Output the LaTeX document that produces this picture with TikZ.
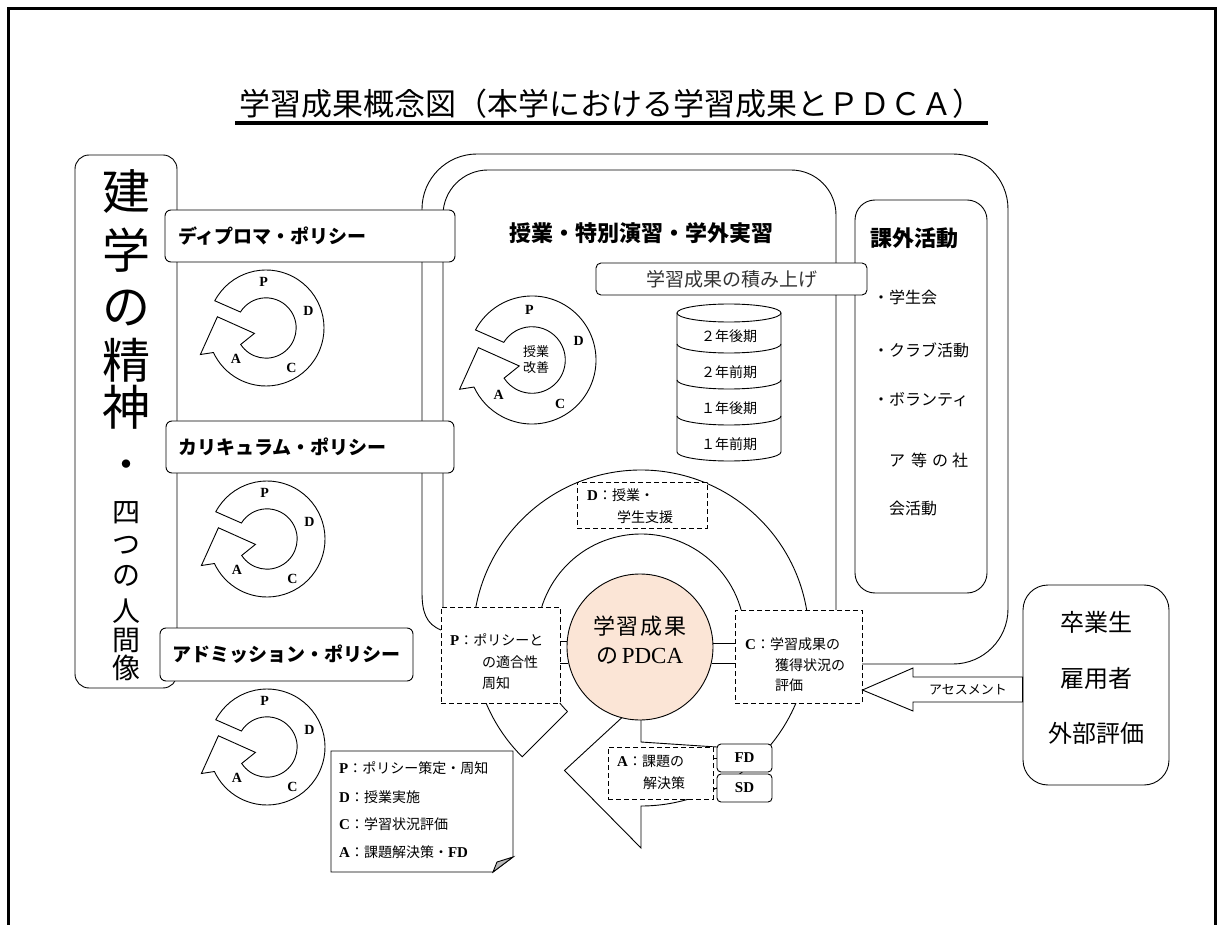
\documentclass[tikz,border=0pt]{standalone}
\usepackage{fontspec}
\setmainfont{Liberation Serif}
\newfontfamily\jp{Noto Sans CJK JP}
\definecolor{peach}{RGB}{251,229,214}
\definecolor{foldgray}{RGB}{185,185,185}
\newcommand{\myfs}[1]{\fontsize{#1}{#1}\selectfont}
\newcommand{\lt}[2]{{\bfseries\myfs{15}#1}{\jp\myfs{14}#2}}
\newcommand{\pdcycle}[4]{%
 \begin{scope}[shift={(#2,#3)}, yscale=-1]
 \draw[ln, fill=white] (152:#4) arc[start angle=152, end angle=-155, radius=#4]
   -- (202:{1.22*#4}) -- (167:{0.86*#4}) -- (205:{0.22*#4}) -- (-147:{0.52*#4})
   arc[start angle=-147, end angle=148, radius={0.52*#4}] -- cycle;
 \node[cyclab] (#1P) at ({-0.04*#4},{0.79*#4}) {P};
 \node[cyclab] (#1D) at ({0.73*#4},{0.30*#4}) {D};
 \node[cyclab] (#1C) at ({0.44*#4},{-0.68*#4}) {C};
 \node[cyclab] (#1A) at ({-0.52*#4},{-0.54*#4}) {A};
 \end{scope}}
\begin{document}
\begin{tikzpicture}[x=1pt,y=-1pt,
  ln/.style={line width=0.9pt},
  cyclab/.style={font=\bfseries\myfs{14}, inner sep=0},
  pbox/.style={draw, ln, fill=white, rounded corners=6, inner ysep=0, align=left, font=\jp\bfseries\myfs{19}},
  dbox/.style={draw, ln, fill=white, dashed, dash pattern=on 5pt off 3pt, inner sep=0},
  sbox/.style={draw, ln, fill=white, rounded corners=4, inner sep=0, font=\bfseries\myfs{15}},
  txt/.style={inner sep=0, anchor=west},
  jtxt/.style={inner sep=0, anchor=west, font=\jp\myfs{14}}]
\useasboundingbox (0,0) rectangle (1219,925);
\fill[white] (0,0) rectangle (1219,925);
\draw[line width=3pt] (8,9) rectangle (1215,960);

% title
\node[font=\jp\myfs{31}, inner sep=0] (title) at (611,104) {学習成果概念図（本学における学習成果とＰＤＣＡ）};
\draw[line width=4pt] (235,123) -- (988,123);

% left box
\node[draw, ln, rounded corners=14, minimum width=102, minimum height=533, inner sep=0] (kengaku) at (126,421.5) {};
\node[font=\jp\myfs{48}, inner sep=0] (k1) at (126,192) {建};
\node[font=\jp\myfs{48}, inner sep=0] (k2) at (126,250) {学};
\node[font=\jp\myfs{48}, inner sep=0] (k3) at (126,308) {の};
\node[font=\jp\myfs{48}, inner sep=0] (k4) at (126,360) {精};
\node[font=\jp\myfs{48}, inner sep=0] (k5) at (126,407) {神};
\node[font=\jp\bfseries\myfs{30}, inner sep=0] (n0) at (126,468) {・};
\node[font=\jp\myfs{28}, inner sep=0] (n1) at (126,513) {四};
\node[font=\jp\myfs{28}, inner sep=0] (n2) at (126,545) {つ};
\node[font=\jp\myfs{28}, inner sep=0] (n3) at (126,576) {の};
\node[font=\jp\myfs{28}, inner sep=0] (n4) at (126,611) {人};
\node[font=\jp\myfs{28}, inner sep=0] (n5) at (126,640) {間};
\node[font=\jp\myfs{28}, inner sep=0] (n6) at (126,668) {像};

% big loop (lessons)
\draw[ln] (441,630) .. controls (426,624) and (422,612) .. (422,592)
  [rounded corners=55] -- (422,154) -- (1008,154) -- (1008,664) -- (862,664);
\draw[ln, rounded corners=45] (443,607) -- (443,170) -- (836,170) -- (836,610);

% extracurricular
\node[draw, ln, rounded corners=20, minimum width=132, minimum height=393, inner sep=0] (extra) at (921,396.5) {};
\node[txt, font=\jp\bfseries\myfs{22}] (extraT) at (870,238) {課外活動};
\node[txt, font=\jp\myfs{16}] (e1) at (873,297) {・学生会};
\node[txt, font=\jp\myfs{16}] (e2) at (873,350) {・クラブ活動};
\node[txt, font=\jp\myfs{16}] (e3) at (873,400) {・ボランティ};
\node[txt, font=\jp\myfs{16}] (e4) at (889,460) {ア\hspace{6pt}等\hspace{5pt}の\hspace{4pt}社};
\node[txt, font=\jp\myfs{16}] (e5) at (889,508) {会活動};

% policy boxes
\node[pbox, text width=264, inner xsep=13, minimum height=52] (dp) at (310,236) {ディプロマ・ポリシー};
\node[pbox, text width=264, inner xsep=12, minimum height=52] (cp) at (310,447) {カリキュラム・ポリシー};
\node[pbox, text width=229, inner xsep=12, minimum height=53] (ap) at (286.5,654.5) {アドミッション・ポリシー};

% small cycles
\pdcycle{dpc}{266}{328}{58}
\pdcycle{cpc}{267}{539}{58}
\pdcycle{apc}{267}{747}{58}
\pdcycle{jc}{532}{360}{64}
\node[font=\jp\myfs{13}, align=center, inner sep=0] (kaizen) at (536,360) {授業\\[3pt]改善};

% lessons title and stack
\node[font=\jp\bfseries\myfs{22}, inner sep=0] (jugyo) at (641,233) {授業・特別演習・学外実習};
\node[draw, ln, fill=white, rounded corners=5, minimum width=271, minimum height=32, inner sep=0, font=\jp\myfs{19}, text=black!80] (stack) at (731.5,279) {学習成果の積み上げ};

% cylinder
\draw[ln, fill=white] (677,313) -- (677,452) arc[start angle=180, end angle=0, x radius=52, y radius=9] -- (781,313);
\draw[ln] (729,313) ellipse[x radius=52, y radius=9];
\foreach \yy in {344,380,416}
  \draw[ln] (677,\yy) arc[start angle=180, end angle=0, x radius=52, y radius=9];
\node[font=\jp\myfs{14}, inner sep=0] (s1) at (729,336) {２年後期};
\node[font=\jp\myfs{14}, inner sep=0] (s2) at (729,372) {２年前期};
\node[font=\jp\myfs{14}, inner sep=0] (s3) at (729,408) {１年後期};
\node[font=\jp\myfs{14}, inner sep=0] (s4) at (729,444) {１年前期};

% central ring arrow
\begin{scope}[shift={(641,638)}, yscale=-1]
\fill[white] (225:168) arc[start angle=225, end angle=-90, radius=168]
  -- (-90:210) -- (240:153) -- (-90:62) -- (-90:104)
  .. controls (30,-106) and (60,-108) .. (76,-109) -- (100,-70) -- (12:104)
  arc[start angle=12, end angle=225, radius=104] -- cycle;
\draw[ln] (225:104) -- (225:168) arc[start angle=225, end angle=-90, radius=168]
  -- (-90:210) -- (240:153) -- (-90:62) -- (-90:104)
  .. controls (30,-106) and (60,-108) .. (76,-109);
\draw[ln] (12:104) arc[start angle=12, end angle=225, radius=104];
\end{scope}

% PDCA boxes
\node[dbox, minimum width=130, minimum height=46] (Dbox) at (642,505) {};
\node[txt] (d1) at (587,495) {\lt{D}{：授業・}};
\node[jtxt] (d2) at (617,517) {学生支援};

\node[dbox, minimum width=119, minimum height=96] (Pbox) at (500.5,655) {};
\node[txt] (p1) at (450,640) {\lt{P}{：ポリシーと}};
\node[jtxt] (p2) at (482,662) {の適合性};
\node[jtxt] (p3) at (482,683) {周知};

\node[dbox, minimum width=127, minimum height=93] (Cbox) at (798.5,656.5) {};
\node[txt] (c1) at (745,644) {\lt{C}{：学習成果の}};
\node[jtxt] (c2) at (775,665) {獲得状況の};
\node[jtxt] (c3) at (775,685) {評価};

\node[dbox, minimum width=105, minimum height=52] (Abox) at (660.5,773) {};
\node[txt] (a1) at (617,761) {\lt{A}{：課題の}};
\node[jtxt] (a2) at (643,783) {解決策};

\node[sbox, minimum width=55, minimum height=28] (FD) at (744.5,758) {FD};
\node[sbox, minimum width=55, minimum height=28] (SD) at (744.5,788) {SD};
\draw[ln] (Abox.east |- FD) -- (FD.west);
\draw[ln] (Abox.east |- SD) -- (SD.west);

% central circle
\node[circle, draw, ln, fill=peach, minimum size=146, inner sep=0] (pdca) at (640,647) {};
\node[font=\jp\myfs{22}, inner sep=0] (pd1) at (640,626) {学\hspace{2pt}習\hspace{2pt}成\hspace{2pt}果};
\node[inner sep=0] (pd2) at (640,656) {{\jp\myfs{22}の}\hspace{3pt}{\myfs{23}PDCA}};
\draw[ln] (pdca.176.9) -- (pdca.176.9 -| Pbox.east);
\draw[ln] (pdca.193.5) -- (pdca.193.5 -| Pbox.east);
\draw[ln] (pdca.3.1) -- (pdca.3.1 -| Cbox.west);
\draw[ln] (pdca.-13.5) -- (pdca.-13.5 -| Cbox.west);

% legend note
\draw[ln, fill=white] (331,751) -- (513,751) -- (513,857) -- (493,872) -- (331,872) -- cycle;
\draw[ln, fill=foldgray] (493,872) -- (497,862) -- (513,857) -- cycle;
\node[txt] (lg1) at (339,768) {\lt{P}{：ポリシー策定・周知}};
\node[txt] (lg2) at (339,797) {\lt{D}{：授業実施}};
\node[txt] (lg3) at (339,824) {\lt{C}{：学習状況評価}};
\node[txt] (lg4) at (339,852) {\lt{A}{：課題解決策・}{\bfseries\myfs{15}FD}};

% external
\node[draw, ln, rounded corners=25, minimum width=146, minimum height=200, inner sep=0] (ext) at (1096,685) {};
\node[font=\jp\myfs{24}, inner sep=0] (x1) at (1096,622) {卒業生};
\node[font=\jp\myfs{24}, inner sep=0] (x2) at (1096,678) {雇用者};
\node[font=\jp\myfs{24}, inner sep=0] (x3) at (1096,733) {外部評価};
\draw[ln, fill=white] (Cbox.east |- 0,690) -- (913,668) -- (913,677) -- (ext.west |- 0,677) -- (ext.west |- 0,702) -- (913,702) -- (913,711) -- cycle;
\node[font=\jp\myfs{13}, inner sep=0] (assess) at (968,690) {アセスメント};
\end{tikzpicture}
\end{document}
